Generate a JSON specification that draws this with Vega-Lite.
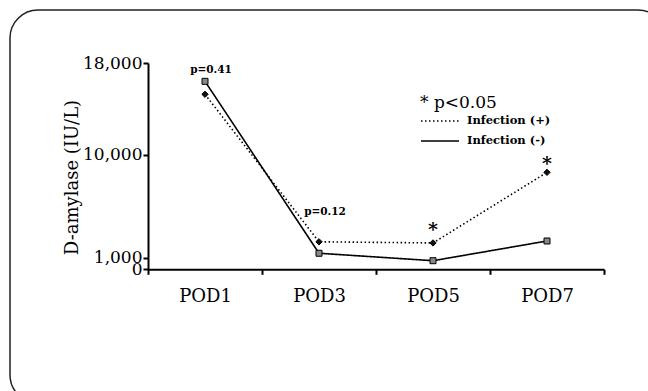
{
  "$schema": "https://vega.github.io/schema/vega-lite/v6.json",
  "width": 656,
  "height": 393,
  "autosize": {"type": "none"},
  "padding": {"left": 10, "top": 10, "right": -18, "bottom": -12},
  "background": "white",
  "config": {
    "view": {"stroke": "#222", "strokeWidth": 1.5, "cornerRadius": 28},
    "font": "DejaVu Serif",
    "axis": {"domainColor": "black", "tickColor": "black", "labelColor": "black", "titleColor": "black", "grid": false, "domainWidth": 2, "tickWidth": 2}
  },
  "datasets": {
    "series": [
      {"pod": "POD1", "group": "Infection (+)", "amylase": 15270},
      {"pod": "POD3", "group": "Infection (+)", "amylase": 2400},
      {"pod": "POD5", "group": "Infection (+)", "amylase": 2300},
      {"pod": "POD7", "group": "Infection (+)", "amylase": 8460},
      {"pod": "POD1", "group": "Infection (-)", "amylase": 16400},
      {"pod": "POD3", "group": "Infection (-)", "amylase": 1400},
      {"pod": "POD5", "group": "Infection (-)", "amylase": 750},
      {"pod": "POD7", "group": "Infection (-)", "amylase": 2470}
    ],
    "pvalues": [
      {"pod": "POD1", "amylase": 17400, "label": "p=0.41"},
      {"pod": "POD3", "amylase": 5000, "label": "p=0.12"}
    ],
    "stars": [
      {"pod": "POD5", "amylase": 3450, "label": "*"},
      {"pod": "POD7", "amylase": 9150, "label": "*"}
    ]
  },
  "encoding": {
    "x": {
      "field": "pod", "type": "nominal",
      "scale": {"type": "band", "domain": ["POD1", "POD3", "POD5", "POD7"], "range": [138, 594], "paddingInner": 0, "paddingOuter": 0},
      "axis": {"title": null, "labelAngle": 0, "labelFontSize": 18, "labelPadding": 13, "tickSize": 5, "tickBand": "extent", "offset": -133.7}
    },
    "y": {
      "field": "amylase", "type": "quantitative",
      "scale": {"domain": [0, 18000], "range": [259.3, 53], "nice": false, "zero": true},
      "axis": {"values": [0, 1000, 10000, 18000], "format": ",.0f", "labelFontSize": 17, "tickSize": 5, "labelPadding": 1, "labelOverlap": false, "offset": -138, "title": "D-amylase (IU/L)", "titleFontSize": 18, "titleFontWeight": "normal", "titlePadding": 1, "titleY": 167}
    }
  },
  "layer": [
    {
      "data": {"name": "series"},
      "mark": {"type": "line", "color": "black", "strokeWidth": 1.6},
      "encoding": {
        "detail": {"field": "group"},
        "strokeDash": {
          "field": "group", "type": "nominal",
          "scale": {"domain": ["Infection (+)", "Infection (-)"], "range": [[1.5, 2.5], [1, 0]]},
          "legend": {"orient": "none", "legendX": 410, "legendY": 85, "title": "* p<0.05", "titleFontSize": 17, "titleFontWeight": "normal", "titleColor": "black", "titlePadding": 3, "labelFontSize": 11.5, "labelFontWeight": "bold", "labelColor": "black", "symbolType": "M-1,0H6.6", "symbolSize": 100, "symbolStrokeWidth": 1.5, "symbolStrokeColor": "black", "labelOffset": 35, "rowPadding": 8, "padding": 0}
        }
      }
    },
    {
      "data": {"name": "series"},
      "transform": [{"filter": "datum.group === 'Infection (+)'"}],
      "mark": {"type": "point", "shape": "diamond", "filled": true, "color": "#111", "stroke": "black", "strokeWidth": 1, "opacity": 1, "size": 40}
    },
    {
      "data": {"name": "series"},
      "transform": [{"filter": "datum.group === 'Infection (-)'"}],
      "mark": {"type": "point", "shape": "square", "filled": true, "color": "#888", "stroke": "black", "strokeWidth": 1, "opacity": 1, "size": 36}
    },
    {
      "data": {"name": "pvalues"},
      "mark": {"type": "text", "fontSize": 10.5, "fontWeight": "bold", "color": "black", "dx": 6, "baseline": "middle"},
      "encoding": {"text": {"field": "label"}}
    },
    {
      "data": {"name": "stars"},
      "mark": {"type": "text", "fontSize": 19, "fontWeight": "bold", "color": "black", "baseline": "middle"},
      "encoding": {"text": {"field": "label"}}
    }
  ]
}
